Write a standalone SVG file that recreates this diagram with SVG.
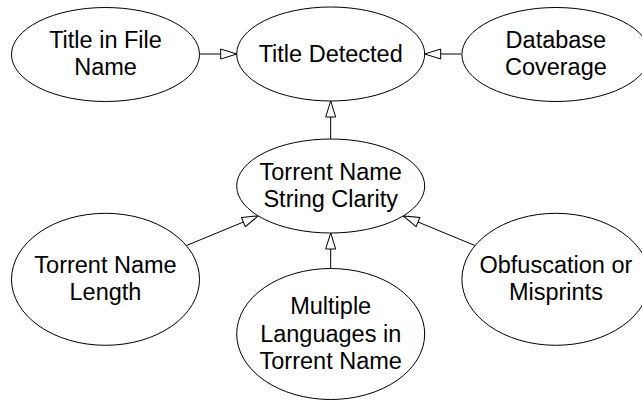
<svg xmlns="http://www.w3.org/2000/svg" width="642" height="401" viewBox="0 0 642 401">
<style>
.node ellipse{fill:#fff;stroke:#000;stroke-width:1}
.node text{font-family:"Liberation Sans",Arial,sans-serif;font-size:23.5px;fill:#000;text-anchor:middle}
.edge{stroke:#000;stroke-width:1;fill:none;marker-end:url(#tri)}
</style>
<defs>
<marker id="tri" markerUnits="userSpaceOnUse" markerWidth="18" markerHeight="12" refX="16" refY="5.5" orient="auto" viewBox="-1 -0.5 18 12">
<path d="M0,0.5 L16,5.5 L0,10.5 Z" fill="#fff" stroke="#000" stroke-width="1"/>
</marker>
</defs>
<rect width="642" height="401" fill="#fff"/>
<g id="connectors">
<line class="edge" x1="199.5" y1="54" x2="236.7" y2="54"/>
<line class="edge" x1="461.5" y1="54" x2="424.7" y2="54"/>
<line class="edge" x1="330.7" y1="139" x2="330.7" y2="101"/>
<line class="edge" x1="186.5" y1="245.5" x2="258.2" y2="215.9"/>
<line class="edge" x1="474.9" y1="245.5" x2="403.2" y2="215.9"/>
<line class="edge" x1="330.7" y1="268.5" x2="330.7" y2="233"/>
</g>
<g id="title_in_file_name" class="node">
<ellipse cx="105.5" cy="54.5" rx="94" ry="47"/>
<text x="105.5" y="48">Title in File</text>
<text x="105.5" y="75">Name</text>
</g>
<g id="title_detected" class="node">
<ellipse cx="330.7" cy="54" rx="94" ry="47"/>
<text x="330.7" y="62">Title Detected</text>
</g>
<g id="database_coverage" class="node">
<ellipse cx="555.9" cy="54.5" rx="94" ry="47"/>
<text x="555.9" y="48">Database</text>
<text x="555.9" y="75">Coverage</text>
</g>
<g id="torrent_name_string_clarity" class="node">
<ellipse cx="330.7" cy="186" rx="94" ry="47"/>
<text x="330.7" y="180">Torrent Name</text>
<text x="330.7" y="207">String Clarity</text>
</g>
<g id="torrent_name_length" class="node">
<ellipse cx="105.5" cy="279.3" rx="94" ry="66"/>
<text x="105.5" y="273">Torrent Name</text>
<text x="105.5" y="300">Length</text>
</g>
<g id="multiple_languages" class="node">
<ellipse cx="330.7" cy="334" rx="94" ry="65.5"/>
<text x="330.7" y="314">Multiple</text>
<text x="330.7" y="342">Languages in</text>
<text x="330.7" y="369">Torrent Name</text>
</g>
<g id="obfuscation_or_misprints" class="node">
<ellipse cx="555.9" cy="279.3" rx="94" ry="66"/>
<text x="555.9" y="273">Obfuscation or</text>
<text x="555.9" y="300">Misprints</text>
</g>
</svg>
